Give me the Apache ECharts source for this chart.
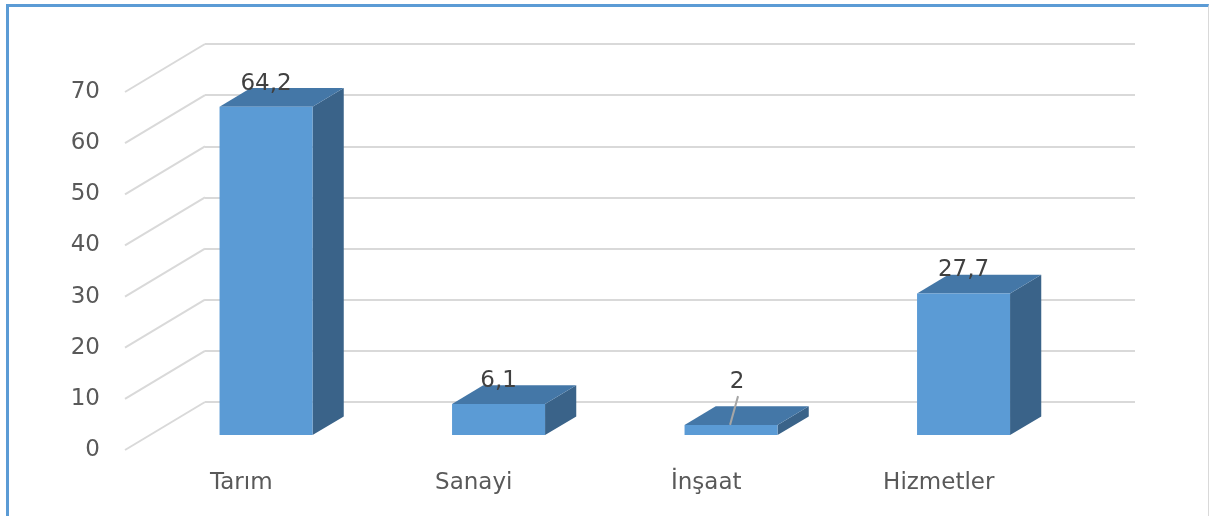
<!DOCTYPE html>
<html>
<head>
<meta charset="utf-8">
<script src="https://cdn.jsdelivr.net/npm/echarts@6/dist/echarts.min.js"></script>
<style>
  body { margin: 0; background: #fff; }
  #main { position: absolute; left: 0; top: 0; width: 1209px; height: 516px; }
  #frame {
    position: absolute; left: 6px; top: 4px; width: 1199px; height: 509px;
    border-left: 3px solid #5b9bd5; border-top: 3px solid #5b9bd5;
    border-right: 1px solid #d9d9d9; border-bottom: 1px solid #d9d9d9;
    pointer-events: none;
  }
</style>
</head>
<body>
<div id="main"></div>
<div id="frame"></div>
<script>
var categories = ['Tarım', 'Sanayi', 'İnşaat', 'Hizmetler'];
var values = [64.2, 6.1, 2, 27.7];
var yTicks = [0, 10, 20, 30, 40, 50, 60, 70];

// perspective: offset from front plane to back wall
var WALL_DX = 80, WALL_DY = -48;
var FRONT_AT = 0.31, BAR_DEPTH = 0.39;
var FONT = 'DejaVu Sans';

function drawChart() {
    var chart = echarts.init(document.getElementById('main'));

    var option = {
        animation: false,
        grid: [
            {left: 205, top: 44, width: 930, height: 358},   // back wall
            {left: 125, top: 92, width: 930, height: 358}    // front plane
        ],
        xAxis: [
            {gridIndex: 0, type: 'category', data: categories, show: false},
            {
                gridIndex: 1, type: 'category', data: categories,
                axisLine: {show: false}, axisTick: {show: false},
                axisLabel: {color: '#595959', fontSize: 23, fontFamily: FONT, margin: 22}
            }
        ],
        yAxis: [
            {
                gridIndex: 0, type: 'value', min: 0, max: 70, interval: 10,
                axisLine: {show: false}, axisTick: {show: false}, axisLabel: {show: false},
                splitLine: {lineStyle: {color: '#d9d9d9', width: 2}}
            },
            {
                gridIndex: 1, type: 'value', min: 0, max: 70, interval: 10,
                axisLine: {show: false}, axisTick: {show: false}, splitLine: {show: false},
                axisLabel: {color: '#595959', fontSize: 23, fontFamily: FONT, margin: 25}
            }
        ],
        series: [
            {
                // side wall diagonals
                type: 'custom',
                xAxisIndex: 1, yAxisIndex: 1,
                silent: true,
                data: yTicks.map(function (v) { return [0, v]; }),
                renderItem: function (params, api) {
                    var p = api.coord([0, api.value(1)]);
                    var x = params.coordSys.x;
                    return {
                        type: 'line',
                        shape: {x1: x, y1: p[1], x2: x + WALL_DX, y2: p[1] + WALL_DY},
                        style: {stroke: '#d9d9d9', lineWidth: 2}
                    };
                }
            },
            {
                type: 'custom',
                xAxisIndex: 1, yAxisIndex: 1,
                data: values.map(function (v, i) { return [i, v]; }),
                renderItem: function (params, api) {
                    var i = api.value(0), v = api.value(1);
                    var base = api.coord([i, 0]);
                    var top = api.coord([i, v]);
                    var w = api.size([1, 0])[0] * 0.4;
                    var cx = base[0] + FRONT_AT * WALL_DX;
                    var yb = base[1] + FRONT_AT * WALL_DY;
                    var yt = top[1] + FRONT_AT * WALL_DY;
                    var dx = BAR_DEPTH * WALL_DX, dy = BAR_DEPTH * WALL_DY;
                    var x0 = cx - w / 2, x1 = cx + w / 2;

                    var ly = Math.min(yt - 23, yb - 53);
                    var lifted = (yt - 23) - ly > 5;
                    var lx = lifted ? cx + 6 : cx;

                    var kids = [
                        {
                            type: 'polygon',
                            shape: {points: [[x1, yt], [x1 + dx, yt + dy], [x1 + dx, yb + dy], [x1, yb]]},
                            style: {fill: '#3a6389'}
                        },
                        {
                            type: 'polygon',
                            shape: {points: [[x0, yt], [x1, yt], [x1 + dx, yt + dy], [x0 + dx, yt + dy]]},
                            style: {fill: '#4477a7'}
                        },
                        {
                            type: 'rect',
                            shape: {x: x0, y: yt, width: w, height: yb - yt},
                            style: {fill: '#5b9bd5'}
                        },
                        {
                            type: 'text',
                            style: {
                                x: lx, y: ly,
                                text: String(v).replace('.', ','),
                                fill: '#404040', font: '23px "' + FONT + '"',
                                align: 'center', verticalAlign: 'middle'
                            }
                        }
                    ];
                    if (lifted) {
                        kids.push({
                            type: 'line',
                            shape: {x1: lx + 1, y1: ly + 14, x2: cx - 1, y2: yt},
                            style: {stroke: '#a6a6a6', lineWidth: 2}
                        });
                    }
                    return {type: 'group', children: kids};
                }
            }
        ]
    };

    chart.setOption(option);
}

drawChart();
</script>
</body>
</html>
